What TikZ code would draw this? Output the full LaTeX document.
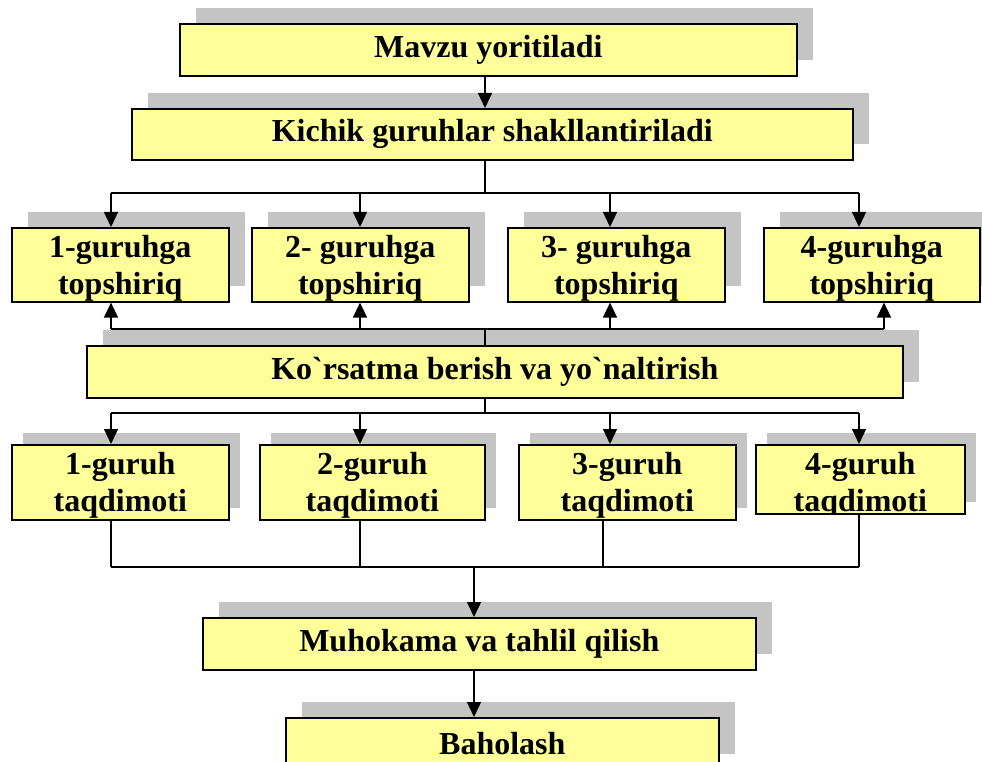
\documentclass[tikz,border=0pt]{standalone}
\usepackage{fontspec}
\setmainfont{Liberation Serif}[Ligatures=TeXOff]
\usetikzlibrary{arrows.meta,shadows}

\definecolor{boxyellow}{HTML}{FFFF99}
\definecolor{shadowgray}{HTML}{C4C4C4}

\begin{document}
\begin{tikzpicture}[
      x=1pt, y=-1pt,
      every node/.style={font=\fontsize{32}{37}\selectfont\bfseries},
      boxbase/.style={
          draw,
          line width=1.6pt,
          fill=boxyellow,
          anchor=north west,
          inner sep=0pt,
          align=center
        },
      box/.style={boxbase, general shadow={fill=shadowgray, shadow xshift=16pt, shadow yshift=16pt}},
      topbox/.style={box, text depth=0pt},
      taqbox/.style={boxbase, text depth=0pt, general shadow={fill=shadowgray, shadow xshift=11pt, shadow yshift=12pt}},
      bus/.style={line width=1.3pt},
      arr/.style={bus, -{Triangle[length=15pt,width=14pt]}}
    ]
    \useasboundingbox (0,0) rectangle (982,762);

    % boxes
    \node[box, minimum width=617pt, minimum height=52pt] (mavzu) at (179,23) {Mavzu yoritiladi};
    \node[box, minimum width=721pt, minimum height=51pt] (kichik) at (131,108) {Kichik guruhlar shakllantiriladi};

    \node[topbox, minimum width=217pt, minimum height=74pt] (top1) at (11,227) {1-guruhga\\topshiriq};
    \node[topbox, minimum width=217pt, minimum height=74pt] (top2) at (251,227) {2- guruhga\\topshiriq};
    \node[topbox, minimum width=217pt, minimum height=74pt] (top3) at (507,227) {3- guruhga\\topshiriq};
    \node[topbox, minimum width=216pt, minimum height=74pt] (top4) at (763,227) {4-guruhga\\topshiriq};

    \node[box, minimum width=816pt, minimum height=52pt] (korsatma) at (86,345) {Ko`rsatma berish va yo`naltirish};

    \node[taqbox, minimum width=217pt, minimum height=75pt] (taq1) at (11,444) {1-guruh\\taqdimoti};
    \node[taqbox, minimum width=225pt, minimum height=75pt] (taq2) at (259,444) {2-guruh\\taqdimoti};
    \node[taqbox, minimum width=217pt, minimum height=75pt] (taq3) at (518,444) {3-guruh\\taqdimoti};
    % last one is shorter, its text runs under the bottom line
    \node[taqbox, minimum width=209pt, minimum height=69pt,
          path picture={\node[anchor=center, align=center, text depth=0pt, yshift=-3pt]
                          at (path picture bounding box.center) {4-guruh\\taqdimoti};}]
          (taq4) at (755,444) {};

    \node[box, minimum width=553pt, minimum height=52pt] (muhokama) at (202,617) {Muhokama va tahlil qilish};
    \node[box, minimum width=433pt, minimum height=52pt] (baholash) at (285,717) {Baholash};

    % columns and bus lines
    \coordinate (k1) at (111,0);
    \coordinate (k2) at (360,0);
    \coordinate (k3) at (610,0);
    \coordinate (k4) at (859,0);
    \coordinate (k3e) at (603,0);
    \coordinate (k4u) at (884,0);
    \coordinate (mid) at (485,0);
    \coordinate (mid2) at (474,0);
    \coordinate (b1) at (0,193);
    \coordinate (b2) at (0,329);
    \coordinate (b3) at (0,413);
    \coordinate (b4) at (0,567);

    % connectors
    \draw[arr] (mavzu.south -| mid) -- (kichik.north -| mid);
    \draw[bus] (kichik.south -| mid) -- (b1 -| mid);
    \draw[bus] (b1 -| k1) -- (b1 -| k4);
    \foreach \n in {1,...,4}
      \draw[arr] (b1 -| k\n) -- (top\n.north -| k\n);

    \draw[bus] (korsatma.north -| mid) -- (b2 -| mid);
    \draw[bus] (b2 -| k1) -- (b2 -| k4u);
    \foreach \n/\k in {1/k1,2/k2,3/k3,4/k4u}
      \draw[arr] (b2 -| \k) -- (top\n.south -| \k);

    \draw[bus] (korsatma.south -| mid) -- (b3 -| mid);
    \draw[bus] (b3 -| k1) -- (b3 -| k4);
    \foreach \n in {1,...,4}
      \draw[arr] (b3 -| k\n) -- (taq\n.north -| k\n);

    \foreach \n/\k in {1/k1,2/k2,3/k3e,4/k4}
      \draw[bus] (taq\n.south -| \k) -- (b4 -| \k);
    \draw[bus] (b4 -| k1) -- (b4 -| k4);
    \draw[arr] (b4 -| mid2) -- (muhokama.north -| mid2);
    \draw[arr] (muhokama.south -| mid2) -- (baholash.north -| mid2);
\end{tikzpicture}
\end{document}
